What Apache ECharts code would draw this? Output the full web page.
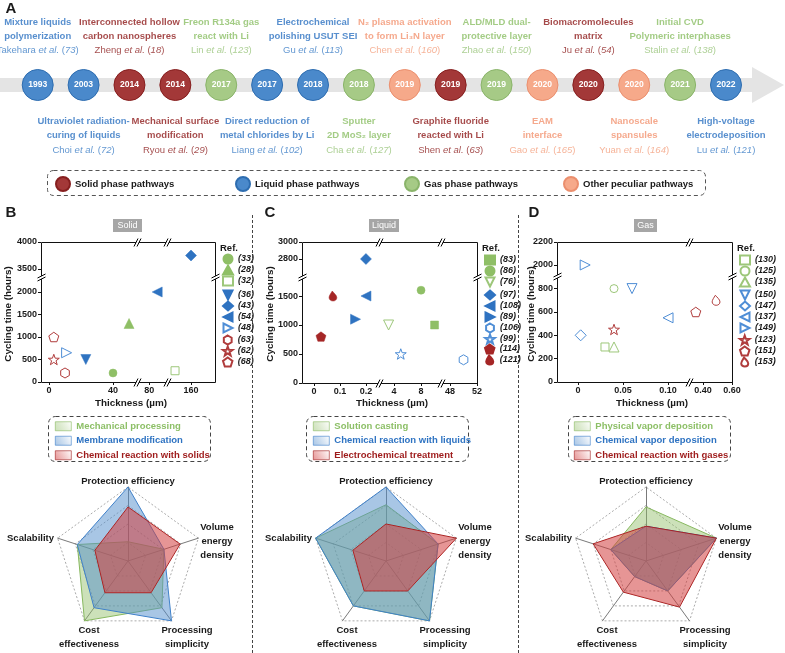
<!DOCTYPE html>
<html><head><meta charset="utf-8">
<script src="https://cdn.jsdelivr.net/npm/echarts@6/dist/echarts.min.js"></script>
<style>html,body{margin:0;padding:0;background:#fff}#c{width:785px;height:653px}</style>
</head><body><div id="c"></div>
<script>
// ---------------- DATA ----------------
const timelineYears = ['1993','2003','2014','2014','2017','2017','2018','2018','2019','2019','2019','2020','2020','2020','2021','2022'];
const timelineTypes = [1,1,0,0,2,1,1,2,3,0,2,3,0,3,2,1]; // 0 solid, 1 liquid, 2 gas, 3 other
const timelineTitles = [
  ['Mixture liquids','polymerization'],
  ['Ultraviolet radiation-','curing of liquids'],
  ['Interconnected hollow','carbon nanospheres'],
  ['Mechanical surface','modification'],
  ['Freon R134a gas','react with Li'],
  ['Direct reduction of','metal chlorides by Li'],
  ['Electrochemical','polishing USUT SEI'],
  ['Sputter','2D MoS\u2082 layer'],
  ['N\u2082 plasma activation','to form Li\u2083N layer'],
  ['Graphite fluoride','reacted with Li'],
  ['ALD/MLD dual-','protective layer'],
  ['EAM','interface'],
  ['Biomacromolecules','matrix'],
  ['Nanoscale','spansules'],
  ['Initial CVD','Polymeric interphases'],
  ['High-voltage','electrodeposition']
];
const timelineAuthors = ['Takehara','Choi','Zheng','Ryou','Lin','Liang','Gu','Cha','Chen','Shen','Zhao','Gao','Ju','Yuan','Stalin','Lu'];
const timelineRefNums = ['73','72','18','29','123','102','113','127','160','63','150','165','54','164','138','121'];
const pathwayNames = ['Solid phase pathways','Liquid phase pathways','Gas phase pathways','Other peculiar pathways'];

const solidRefs      = ['(33)','(28)','(32)','(36)','(43)','(54)','(48)','(63)','(62)','(68)'];
const solidThickness = [40, 50, 150, 23, 160, 85, 11, 10, 3, 3];
const solidCycling   = [200, 1300, 250, 500, 3750, 2000, 650, 200, 500, 1000];
const solidXTicks = [[0,40],[80],[160]];
const solidYTicks = [[0,500,1000,1500,2000],[3500,4000]];

const liquidRefs      = ['(83)','(86)','(76)','(97)','(108)','(89)','(106)','(99)','(114)','(121)'];
const liquidThickness = [10, 8, 3.2, 0.2, 0.2, 0.16, 50, 5, 0.027, 0.073];
const liquidCycling   = [1000, 1600, 1000, 2800, 1500, 1100, 400, 500, 800, 1500];
const liquidXTicks = [[0,0.1,0.2],[4,8],[48,52]];
const liquidYTicks = [[0,500,1000,1500],[2800,3000]];

const gasRefs      = ['(130)','(125)','(135)','(150)','(147)','(137)','(149)','(123)','(151)','(153)'];
const gasThickness = [0.03, 0.04, 0.04, 0.06, 0.003, 0.10, 0.008, 0.04, 0.35, 0.49];
const gasCycling   = [300, 800, 300, 800, 400, 550, 2000, 450, 600, 700];
const gasXTicks = [[0,0.05,0.10],[0.40,0.60]];
const gasYTicks = [[0,200,400,600,800],[2000,2200]];

const radarIndicators = ['Protection efficiency','Scalability','Cost effectiveness','Processing simplicity','Volume energy density'];
const solidMethods  = ['Mechanical processing','Membrane modification','Chemical reaction with solids'];
const solidScores   = [[0.26,0.72,1.00,0.78,0.51],[1.00,0.72,0.78,1.00,0.51],[0.73,0.47,0.53,0.53,0.74]];
const liquidMethods = ['Solution casting','Chemical reaction with liquids','Electrochemical treatment'];
const liquidScores  = [[0.76,1.00,0.75,1.00,0.74],[1.00,1.00,0.75,1.00,0.74],[0.50,0.47,0.50,0.50,1.00]];
const gasMethods    = ['Physical vapor deposition','Chemical vapor deposition','Chemical reaction with gases'];
const gasScores     = [[0.73,0.50,0.26,0.50,1.00],[0.47,0.50,0.26,0.50,1.00],[0.47,0.75,0.52,0.77,1.00]];

// ---------------- STYLE ----------------
const solidSymbols  = ['circle','triangle','rect','triDown','diamond','triLeft','triRight','hexagon','star','pentagon'];
const solidGroups   = [2,2,2,1,1,1,1,0,0,0];
const solidHollow   = [0,0,1,0,0,0,1,1,1,1];
const liquidSymbols = ['rect','circle','triDown','diamond','triLeft','triRight','hexagon','star','pentagon','drop'];
const liquidGroups  = [2,2,2,1,1,1,1,1,0,0];
const liquidHollow  = [0,0,1,0,0,0,1,1,0,0];
const gasSymbols    = ['rect','circle','triangle','triDown','diamond','triLeft','triRight','star','pentagon','drop'];
const gasGroups     = [2,2,2,1,1,1,1,0,0,0];
const gasHollow     = [1,1,1,1,1,1,1,1,1,1];

function hasFont(name){
  const c=document.createElement('canvas').getContext('2d');
  const s='abcdefghijklmnopqrstuvwxyzABCDEFGHIJKLM0123456789';
  c.font='40px monospace'; const a=c.measureText(s).width;
  c.font="40px '"+name+"', monospace"; const b=c.measureText(s).width;
  c.font='40px serif'; const d=c.measureText(s).width;
  c.font="40px '"+name+"', serif"; const e=c.measureText(s).width;
  return a!==b || d!==e;
}
let FONT, K;
if (hasFont('Liberation Sans Narrow')) { FONT="'Liberation Sans Narrow', 'Liberation Sans', Arial, sans-serif"; K=1; }
else if (hasFont('Arial Narrow')) { FONT="'Arial Narrow', 'Liberation Sans', Arial, sans-serif"; K=1; }
else { FONT="'Liberation Sans', Arial, sans-serif"; K=0.86; }
const fs = n => Math.round(n*K*10)/10;

const tlFill   = ['#A33838','#4A89CB','#A6CA86','#F6A98A'];
const tlBorder = ['#861F1F','#2E6DB0','#8AB46A','#EB8F6E'];
const tlTitleColor = ['#8E1B1B','#2E73C2','#8CBF66','#F29470'];
const tlCiteColor  = ['#8E2222','#3B7DC6','#99C47A','#F4A080'];
const markColors  = ['#A52626','#2F73C1','#8FBF66'];
const hollowColors = ['#B03C3C','#4F8ED6','#9DC77A'];
const radarLine = ['#86B85E','#3A7DC9','#9E1B1B'];
const radarFill = ['rgba(143,188,100,0.45)','rgba(82,141,204,0.5)','rgba(210,62,62,0.55)'];
const radarText = ['#8CBF66','#2E73C2','#9E1B1B'];

const SYM = {
  circle:{symbol:'circle', size:8}, triangle:{symbol:'triangle', size:10}, rect:{symbol:'rect', size:8},
  diamond:{symbol:'diamond', size:11},
  triDown:{symbol:'path://M0,0L100,0L50,100Z', size:10},
  triLeft:{symbol:'path://M100,0L100,100L0,50Z', size:10},
  triRight:{symbol:'path://M0,0L100,50L0,100Z', size:10},
  pentagon:{symbol:'path://M50,0L97.55,34.55L79.39,90.45L20.61,90.45L2.45,34.55Z', size:10},
  hexagon:{symbol:'path://M50,0L93.3,25L93.3,75L50,100L6.7,75L6.7,25Z', size:10},
  star:{symbol:'path://M50,0L61.76,33.82L97.55,34.55L69.02,56.18L79.39,90.45L50,70L20.61,90.45L30.98,56.18L2.45,34.55L38.24,33.82Z', size:11},
  drop:{symbol:'path://M42,0C58,20 88,42 88,66C88,86 72,100 50,100C28,100 10,86 10,66C10,46 28,24 42,0Z', size:10}
};

// ---------------- BUILD ----------------
const grids=[], xAxes=[], yAxes=[], series=[], legends=[], radars=[], G=[];

function txt(x,y,text,o={}){ G.push({type:'text', x, y, rotation:o.rot||0, z:o.z||20, silent:true,
  style:{text, fill:o.color||'#1a1a1a', fontSize:o.size||fs(11), fontWeight:o.weight||'bold', fontStyle:o.fstyle||'normal',
  fontFamily:FONT, align:o.align||'center', verticalAlign:'middle', lineHeight:o.lh||undefined}}); }
function line(x1,y1,x2,y2,o={}){ G.push({type:'line', z:o.z||20, silent:true, shape:{x1,y1,x2,y2},
  style:{stroke:o.color||'#000', lineWidth:o.w||1, lineDash:o.dash||null}}); }
function rect(x,y,w,h,o={}){ G.push({type:'rect', z:o.z||5, silent:true, shape:{x,y,width:w,height:h,r:o.r||0},
  style:{fill:o.fill||'none', stroke:o.stroke||'none', lineWidth:o.w||1, lineDash:o.dash||null}}); }
function xBreak(px,y){ G.push({type:'polygon', z:21, silent:true, shape:{points:[[px-4,y+4],[px,y-4],[px+3,y-4],[px-1,y+4]]}, style:{fill:'#fff'}});
  line(px-4,y+4,px,y-4,{z:22}); line(px-1,y+4,px+3,y-4,{z:22}); }
function yBreak(x,py){ G.push({type:'polygon', z:21, silent:true, shape:{points:[[x-4,py+1],[x+4,py-3],[x+4,py],[x-4,py+4]]}, style:{fill:'#fff'}});
  line(x-4,py+1,x+4,py-3,{z:22}); line(x-4,py+4,x+4,py,{z:22}); }

// Timeline
grids.push({left:37.7, top:75, width:688.3, height:20, show:false, outerBoundsMode:'none'});
xAxes.push({gridIndex:0, type:'value', min:0, max:15, show:false});
yAxes.push({gridIndex:0, type:'value', min:0, max:1, show:false});
G.push({type:'polygon', z:0, silent:true, shape:{points:[[0,78],[752,78],[752,67],[784,85],[752,103],[752,92],[0,92]]}, style:{fill:'#E4E4E4'}});
pathwayNames.forEach((nm,k)=>{
  series.push({type:'scatter', name:nm, xAxisIndex:0, yAxisIndex:0, symbol:'circle', symbolSize:31, z:3, silent:true,
    itemStyle:{color:tlFill[k], borderColor:tlBorder[k], borderWidth:1, opacity:1},
    label:{show:true, position:'inside', formatter:p=>timelineYears[p.data[0]], color:'#fff', fontFamily:FONT, fontWeight:'bold', fontSize:fs(10)},
    data: timelineYears.map((y,i)=>i).filter(i=>timelineTypes[i]===k).map(i=>[i,0.5])});
});
const tlRich={};
[0,1,2,3].forEach(k=>{
  tlRich['t'+k]={fontFamily:FONT, fontWeight:'bold', fontSize:fs(11), color:tlTitleColor[k], lineHeight:14};
  tlRich['c'+k]={fontFamily:FONT, fontSize:fs(11), color:tlCiteColor[k], lineHeight:15};
  tlRich['i'+k]={fontFamily:FONT, fontStyle:'italic', fontSize:fs(11), color:tlCiteColor[k], lineHeight:15};
});
series.push({type:'scatter', name:'annot', xAxisIndex:0, yAxisIndex:0, symbol:'circle', symbolSize:31, silent:true, z:2,
  itemStyle:{color:'rgba(0,0,0,0)'},
  data: timelineYears.map((y,i)=>{
    const t=timelineTypes[i];
    const lines=timelineTitles[i].map(s=>'{t'+t+'|'+s+'}');
    lines.push('{c'+t+'|'+timelineAuthors[i]+' }{i'+t+'|et al.}{c'+t+'| (}{i'+t+'|'+timelineRefNums[i]+'}{c'+t+'|)}');
    const top = i%2===0;
    return {value:[i,0.5], label:{show:true, position: top?'top':'bottom', distance: top?11.5:14, align:'center', formatter: lines.join('\n'), rich:tlRich}};
  })});
// pathway legend
const lgX=[55,235,404,563];
pathwayNames.forEach((nm,k)=>{
  legends.push({data:[nm], left:lgX[k], top:176, icon:'circle', itemWidth:14, itemHeight:14, padding:0, selectedMode:false,
    textStyle:{fontFamily:FONT, fontWeight:'bold', fontSize:fs(11), color:'#1a1a1a'}});
});
rect(47.5,170.5,658,25,{r:6, stroke:'#555', dash:[4,3], z:1});
txt(11,9,'A',{size:15});

// Scatter panels
const panels=[
  {refs:solidRefs, xs:solidThickness, ys:solidCycling, sym:solidSymbols, grp:solidGroups, hol:solidHollow,
   xSegs:[{l:41,r:138,min:-5,max:55.6,ticks:solidXTicks[0]},{l:138,r:168,min:73,max:91.75,ticks:solidXTicks[1]},{l:168,r:215,min:145.6,max:175,ticks:solidXTicks[2]}],
   ySegs:[{t:277,b:382,min:0,max:2333,ticks:solidYTicks[0]},{t:242,b:277,min:3352,max:4000,ticks:solidYTicks[1]}],
   xFmt:v=>String(v), lgLeft:222, lgTops:[253.5,289.5,334.5], lgSplit:[3,7], refX:220,
   letter:['B',11,213], tag:['Solid',113,29,127.5], yTitleX:8, xTitleX:131, radarCx:128, legBox:48, legLeft:55,
   methods:solidMethods, scores:solidScores},
  {refs:liquidRefs, xs:liquidThickness, ys:liquidCycling, sym:liquidSymbols, grp:liquidGroups, hol:liquidHollow,
   xSegs:[{l:302,r:380,min:-0.046,max:0.254,ticks:liquidXTicks[0]},{l:380,r:442,min:1.93,max:11.1,ticks:liquidXTicks[1]},{l:442,r:477,min:46.8,max:52,ticks:liquidXTicks[2]}],
   ySegs:[{t:277,b:383,min:0,max:1828,ticks:liquidYTicks[0]},{t:242,b:277,min:2588,max:3000,ticks:liquidYTicks[1]}],
   xFmt:v=>String(v), lgLeft:484, lgTops:[254.5,289.5,343.5], lgSplit:[3,8], refX:482,
   letter:['C',270,213], tag:['Liquid',369,30,384], yTitleX:270, xTitleX:392, radarCx:386, legBox:306, legLeft:313,
   methods:liquidMethods, scores:liquidScores},
  {refs:gasRefs, xs:gasThickness, ys:gasCycling, sym:gasSymbols, grp:gasGroups, hol:gasHollow,
   xSegs:[{l:557,r:690,min:-0.0233,max:0.1244,ticks:gasXTicks[0]},{l:690,r:732,min:0.31,max:0.60,ticks:gasXTicks[1]}],
   ySegs:[{t:276,b:382,min:0,max:908,ticks:gasYTicks[0]},{t:242,b:276,min:1904,max:2200,ticks:gasYTicks[1]}],
   xFmt:v=>v===0?'0':v.toFixed(2), lgLeft:739, lgTops:[254.5,289.5,334.5], lgSplit:[3,7], refX:737,
   letter:['D',534,213], tag:['Gas',634,23,645.5], yTitleX:531, xTitleX:652, radarCx:646, legBox:568, legLeft:574,
   methods:gasMethods, scores:gasScores}
];

panels.forEach((p,pi)=>{
  const gmap={};
  p.ySegs.forEach((ys,yi)=>p.xSegs.forEach((xs,xi)=>{
    const gi=grids.length;
    grids.push({left:xs.l, top:ys.t, width:xs.r-xs.l, height:ys.b-ys.t, show:false, outerBoundsMode:'none'});
    const showX = yi===0, showY = xi===0;
    xAxes.push({gridIndex:gi, type:'value', min:xs.min, max:xs.max, position:'bottom',
      axisLine:{show:false, onZero:false}, splitLine:{show:false},
      axisTick:{show:showX, length:3, inside:false, customValues:xs.ticks, lineStyle:{color:'#111'}},
      axisLabel:{show:showX, customValues:xs.ticks, margin:4, formatter:p.xFmt, color:'#1a1a1a', fontFamily:FONT, fontWeight:'bold', fontSize:fs(10.5)}});
    yAxes.push({gridIndex:gi, type:'value', min:ys.min, max:ys.max, position:'left',
      axisLine:{show:false, onZero:false}, splitLine:{show:false},
      axisTick:{show:showY, length:3, inside:false, customValues:ys.ticks, lineStyle:{color:'#111'}},
      axisLabel:{show:showY, customValues:ys.ticks, margin:4, formatter:v=>String(v), color:'#1a1a1a', fontFamily:FONT, fontWeight:'bold', fontSize:fs(10.5)}});
    gmap[xi+','+yi]=gi;
  }));
  p.refs.forEach((r,i)=>{
    const x=p.xs[i], y=p.ys[i];
    let xi=p.xSegs.findIndex(s=>x>=s.min&&x<=s.max); if(xi<0) xi=0;
    let yi=p.ySegs.findIndex(s=>y>=s.min&&y<=s.max); if(yi<0) yi=0;
    const gi=gmap[xi+','+yi];
    const s=SYM[p.sym[i]];
    const hollow=p.hol[i]===1, g=p.grp[i];
    series.push({type:'scatter', name:r, xAxisIndex:gi, yAxisIndex:gi, clip:false, silent:true, z:5,
      symbol:s.symbol, symbolSize:s.size, symbolKeepAspect:true,
      itemStyle: hollow ? {color:'#fff', borderColor:hollowColors[g], borderWidth:1, opacity:1}
                        : {color:markColors[g], borderColor:markColors[g], borderWidth:0.5, opacity:1},
      data:[[x,y]]});
  });
  // ref legends
  const groups=[p.refs.slice(0,p.lgSplit[0]), p.refs.slice(p.lgSplit[0],p.lgSplit[1]), p.refs.slice(p.lgSplit[1])];
  groups.forEach((gr,gi)=>{
    legends.push({data:gr, orient:'vertical', left:p.lgLeft, top:p.lgTops[gi], itemWidth:10, itemHeight:9, itemGap:0, padding:0,
      selectedMode:false, textStyle:{fontFamily:FONT, fontWeight:'bold', fontStyle:'italic', fontSize:fs(10.5), color:'#1a1a1a', lineHeight:9.2}});
  });
  txt(p.refX,248,'Ref.',{align:'left', size:fs(11)});
  // frame & breaks
  const L=p.xSegs[0].l, R=p.xSegs[p.xSegs.length-1].r, T=p.ySegs[p.ySegs.length-1].t, B=p.ySegs[0].b;
  rect(L+0.5,T+0.5,R-L,B-T,{stroke:'#111', z:18});
  p.xSegs.slice(1).forEach(s=>{ xBreak(s.l,T+0.5); xBreak(s.l,B+0.5); });
  p.ySegs.slice(1).forEach(s=>{ yBreak(L+0.5,s.b); yBreak(R+0.5,s.b); });
  // titles
  txt(p.letter[1],p.letter[2],p.letter[0],{size:15});
  rect(p.tag[1],219,p.tag[2],13,{fill:'#A6A6A6', z:5});
  txt(p.tag[3],225.5,p.tag[0],{color:'#fff', weight:'normal', size:fs(10.5)});
  txt(p.yTitleX,314,'Cycling time (hours)',{rot:Math.PI/2, size:fs(11.5)});
  txt(p.xTitleX,403,'Thickness (\u00b5m)',{size:fs(11.5)});
  // radar
  const ri=radars.length;
  radars.push({center:[p.radarCx,561], radius:74, startAngle:90, splitNumber:4, shape:'polygon',
    indicator: radarIndicators.map(n=>({name:n, min:0, max:1})),
    axisName:{show:false}, axisLine:{show:true, lineStyle:{color:'#7a7a7a', width:1}},
    axisTick:{show:false}, axisLabel:{show:false},
    splitLine:{show:true, lineStyle:{color:'#ababab', type:[2,2], width:1}}, splitArea:{show:false}});
  series.push({type:'radar', radarIndex:ri, symbol:'none', silent:true, z:4,
    data:p.methods.map((m,j)=>({name:m, value:p.scores[j], symbol:'none',
      itemStyle:{color:radarLine[j]}, lineStyle:{color:radarLine[j], width:1}, areaStyle:{color:radarFill[j], opacity:1}}))});
  legends.push({data:p.methods.map((m,j)=>({name:m, icon:'rect',
      itemStyle:{color:{type:'linear',x:0,y:1,x2:1,y2:0,colorStops:[{offset:0,color:radarFill[j]},{offset:1,color:'rgba(255,255,255,0.6)'}]}, borderColor:radarLine[j], borderWidth:0.6},
      textStyle:{color:radarText[j]}})),
    orient:'vertical', left:p.legLeft, top:419, itemWidth:16, itemHeight:9, itemGap:0, padding:0, selectedMode:false,
    textStyle:{fontFamily:FONT, fontWeight:'bold', fontSize:fs(11), lineHeight:14.5}});
  rect(p.legBox+0.5,416.5,162,45,{r:7, stroke:'#444', dash:[4,3], z:1});
  const cx=p.radarCx;
  txt(cx,481,'Protection efficiency');
  txt(cx+89,541,'Volume\nenergy\ndensity',{lh:14});
  txt(cx-74,538,'Scalability',{align:'right'});
  txt(cx-39,637,'Cost\neffectiveness',{lh:14});
  txt(cx+59,637,'Processing\nsimplicity',{lh:14});
});
// dividers
line(252.5,215,252.5,653,{color:'#444', dash:[3,2]});
line(518.5,215,518.5,653,{color:'#444', dash:[3,2]});

const chart=echarts.init(document.getElementById('c'),null,{renderer:'canvas'});
chart.setOption({animation:false, backgroundColor:'#fff', grid:grids, xAxis:xAxes, yAxis:yAxes, radar:radars,
  legend:legends, series, graphic:{elements:G}});
</script></body></html>
